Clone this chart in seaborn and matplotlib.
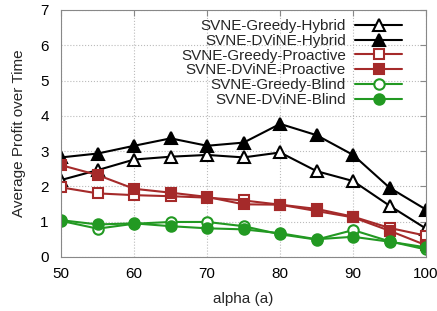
import pandas as pd
import seaborn as sns
from matplotlib import pyplot as plt

alpha = [50, 55, 60, 65, 70, 75, 80, 85, 90, 95, 100]

greedy_hybrid = [2.18, 2.46, 2.76, 2.84, 2.89, 2.82, 2.96, 2.43, 2.15, 1.45, 0.80]
dvine_hybrid = [2.82, 2.93, 3.15, 3.36, 3.15, 3.24, 3.77, 3.45, 2.89, 1.96, 1.34]
greedy_proactive = [1.97, 1.80, 1.75, 1.72, 1.68, 1.60, 1.48, 1.36, 1.14, 0.82, 0.60]
dvine_proactive = [2.60, 2.32, 1.93, 1.82, 1.70, 1.49, 1.48, 1.30, 1.12, 0.74, 0.33]
greedy_blind = [1.02, 0.80, 0.94, 0.99, 0.99, 0.87, 0.64, 0.49, 0.76, 0.44, 0.21]
dvine_blind = [1.04, 0.92, 0.95, 0.87, 0.81, 0.78, 0.67, 0.50, 0.57, 0.43, 0.27]

series = {
    'SVNE-Greedy-Hybrid': greedy_hybrid,
    'SVNE-DViNE-Hybrid': dvine_hybrid,
    'SVNE-Greedy-Proactive': greedy_proactive,
    'SVNE-DViNE-Proactive': dvine_proactive,
    'SVNE-Greedy-Blind': greedy_blind,
    'SVNE-DViNE-Blind': dvine_blind,
}

# colour, marker, filled, marker size
styles = {
    'SVNE-Greedy-Hybrid': ('black', '^', False, 9),
    'SVNE-DViNE-Hybrid': ('black', '^', True, 9),
    'SVNE-Greedy-Proactive': ('#a52a2a', 's', False, 7.5),
    'SVNE-DViNE-Proactive': ('#a52a2a', 's', True, 7.5),
    'SVNE-Greedy-Blind': ('#229922', 'o', False, 7.5),
    'SVNE-DViNE-Blind': ('#229922', 'o', True, 7.5),
}

rows = []
for name, vals in series.items():
    for a, v in zip(alpha, vals):
        rows.append({'alpha': a, 'profit': v, 'algo': name})
df = pd.DataFrame(rows)

sns.set_style('white')
plt.rcParams['font.family'] = ['Liberation Sans', 'DejaVu Sans']
fs = 11

fig = plt.figure(figsize=(4.37, 3.11), dpi=100)
ax = fig.add_axes([0.14, 0.174, 0.835, 0.794])

for name in series:
    color, marker, filled, ms = styles[name]
    sub = df[df['algo'] == name]
    sns.lineplot(data=sub, x='alpha', y='profit', ax=ax, color=color, linewidth=1.5,
                 marker=marker, markersize=ms, markeredgewidth=1.5,
                 markeredgecolor=color, markerfacecolor=color if filled else 'white',
                 label=name)

ax.set_xlim(50, 100)
ax.set_ylim(0, 7)
ax.set_xticks(range(50, 101, 10))
ax.set_yticks(range(0, 8))
ax.grid(True, color='#bbbbbb', linestyle=':', linewidth=0.8)
ax.tick_params(direction='in', top=True, right=True, length=4, color='#888888',
               labelsize=fs, labelcolor='black')
ax.tick_params(axis='y', pad=9)
ax.tick_params(axis='x', pad=7)
for sp in ax.spines.values():
    sp.set_color('#888888')
    sp.set_linewidth(0.8)

ax.set_xlabel('alpha (a)', fontsize=fs, labelpad=8)
ax.set_ylabel('Average Profit over Time', fontsize=fs, labelpad=10)

ax.legend(loc='upper right', frameon=False, markerfirst=False, fontsize=fs,
          handlelength=3.1, handletextpad=0.6, labelspacing=0.05,
          borderaxespad=0.2, bbox_to_anchor=(0.96, 1.0))

fig.savefig('out.png', dpi=100)
